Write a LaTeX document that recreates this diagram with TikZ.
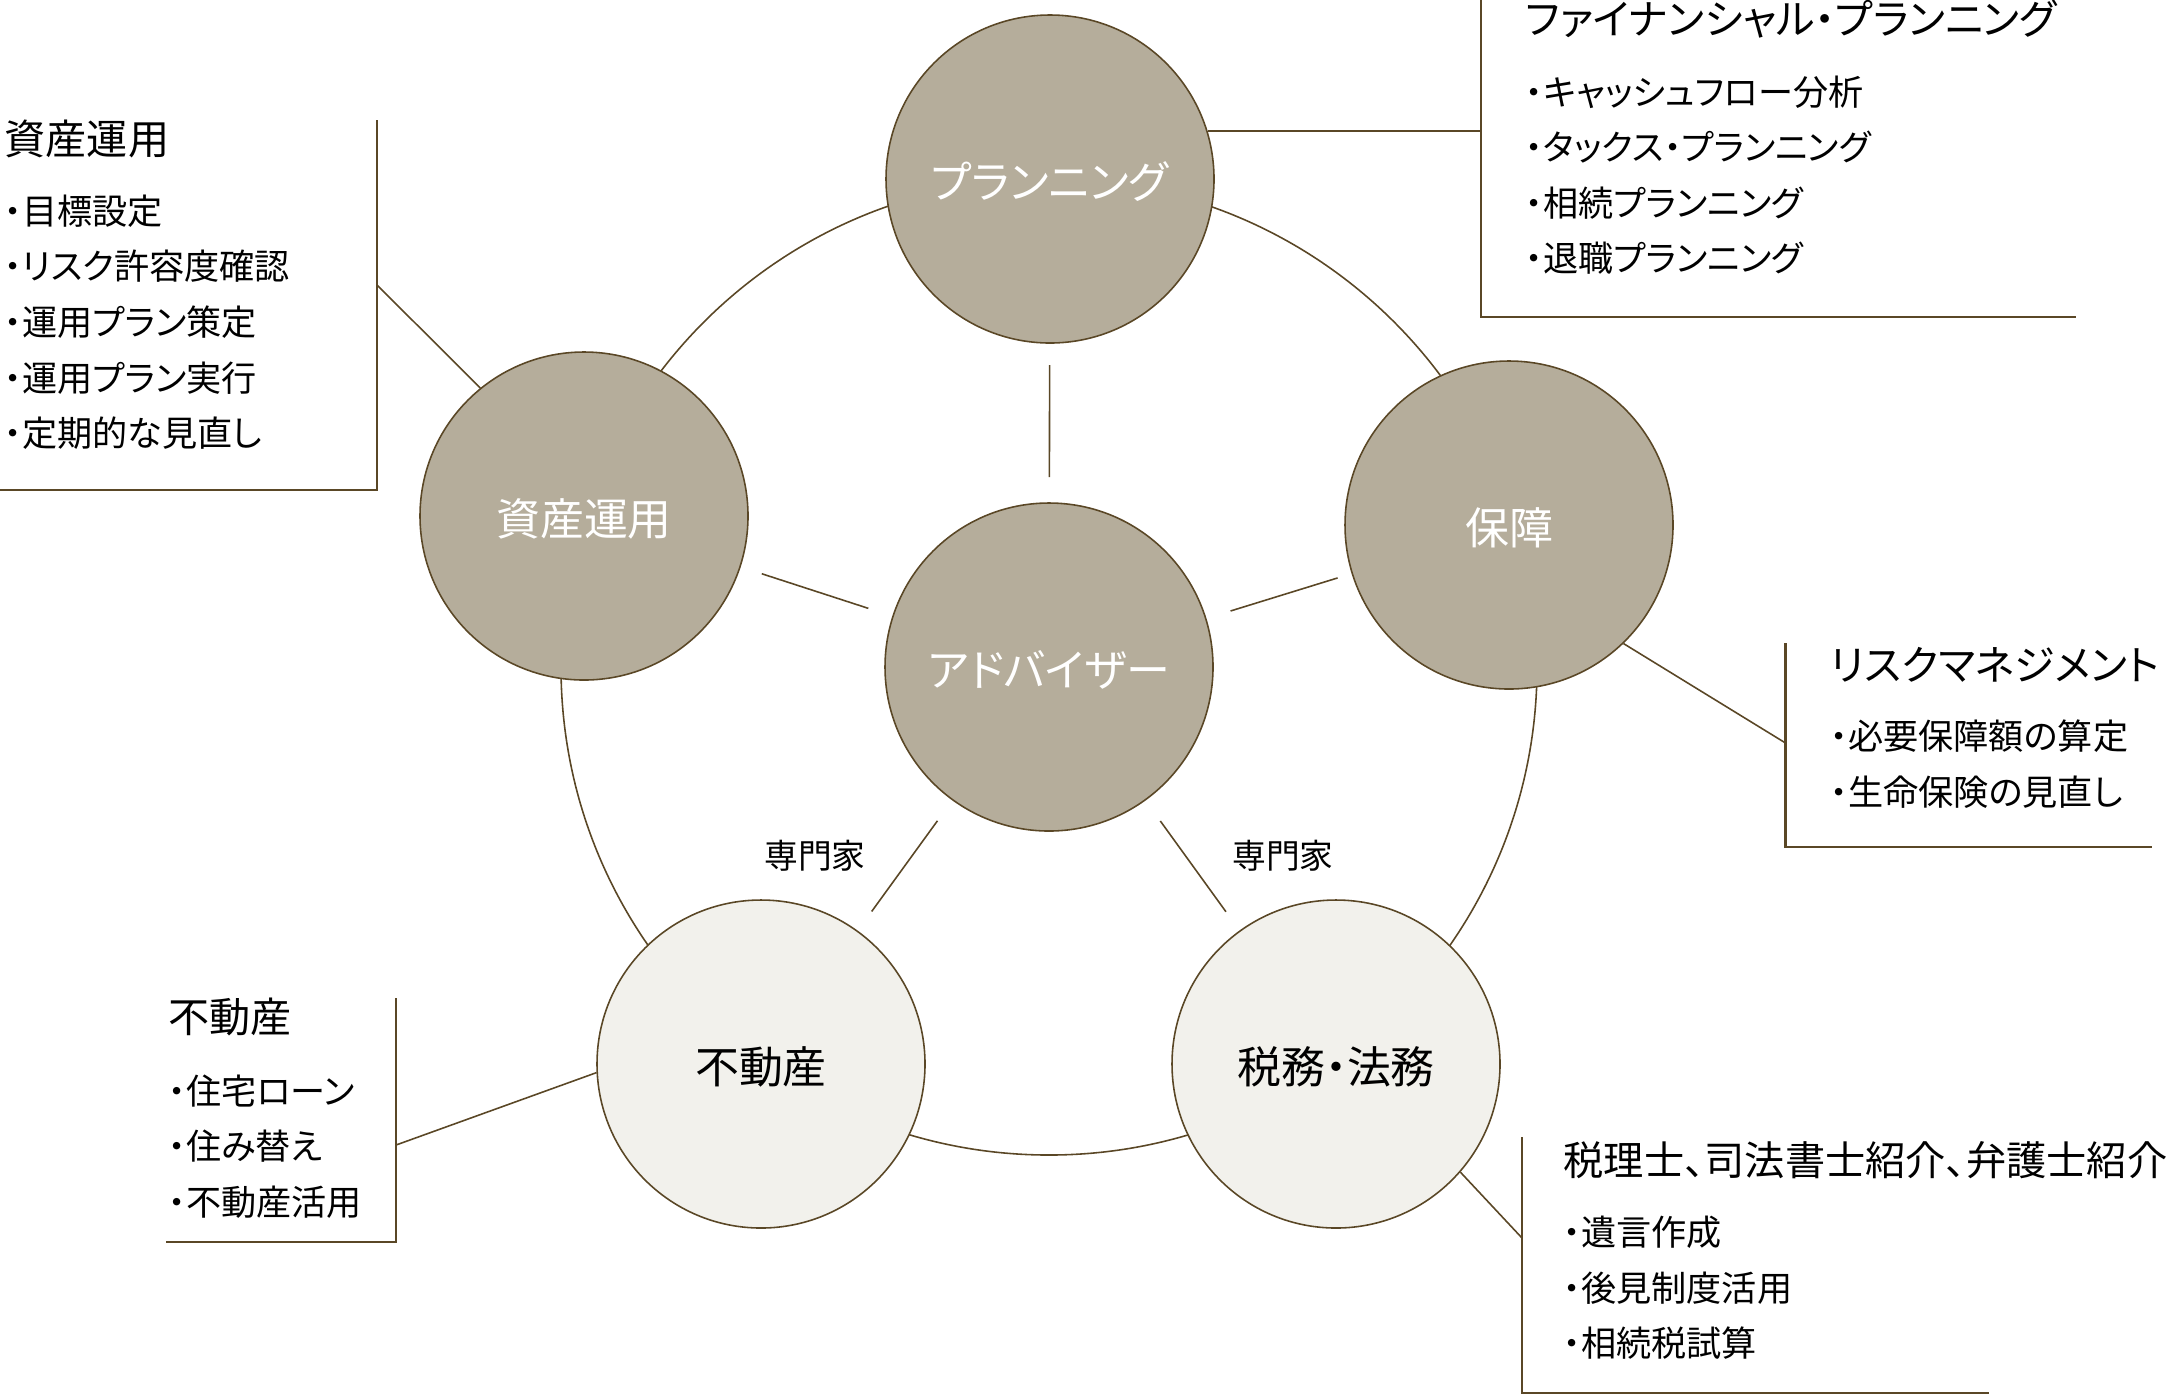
\documentclass[tikz,border=0pt]{standalone}
\usepackage{fontspec}
\setmainfont{Noto Sans CJK JP}[RawFeature=+palt]
\usepackage{xcolor}
\usepackage{tikz}
\usetikzlibrary{positioning,calc}

\definecolor{taupe}{HTML}{B5AD9B}
\definecolor{cream}{HTML}{F2F1EC}
\definecolor{umber}{HTML}{5A4726}

\begin{document}
\begin{tikzpicture}[
      hub/.style={circle, draw=umber, line width=0.45pt, fill=taupe, text=white, minimum size=3.28cm, inner sep=0pt, text height=0.42cm, text depth=0.03cm, font=\fontsize{12.5}{15}\selectfont},
      litehub/.style={hub, fill=cream, text=black},
      head/.style={anchor=west, inner sep=0pt, font=\fontsize{11.7}{14}\selectfont},
      items/.style={align=left, inner sep=0pt, font=\fontsize{10}{15.8}\selectfont},
      tag/.style={inner sep=0pt, font=\fontsize{9.6}{12}\selectfont},
      link/.style={draw=umber, line width=0.45pt},
      bracket/.style={draw=umber, line width=0.6pt}
    ]
    \useasboundingbox (0,0) rectangle (21.72,-13.96);

    % Ring behind the circles
    \coordinate (c) at (10.49,-6.67);
    \draw[link] (c) circle (4.88);

    % Nodes
    \node[hub] (adv) at (c) {アドバイザー};
    \node[hub] (plan) at (10.50,-1.79) {プランニング};
    \node[hub] (prot) at (15.09,-5.25) {保障};
    \node[hub] (asset) at (5.84,-5.16) {資産運用};
    \node[litehub] (estate) at (7.61,-10.64) {不動産};
    \node[litehub] (tax) at (13.36,-10.64) {税務・法務};

    % Spokes from the adviser
    \foreach \s in {plan,prot,asset,estate,tax}
      \draw[link] ($(adv)!1.9cm!(\s)$) -- ($(adv)!3.02cm!(\s)$);
    \node[tag] (expL) at (8.15,-8.56) {専門家};
    \node[tag] (expR) at (12.83,-8.56) {専門家};

    % Financial planning
    \coordinate (fpTop) at (14.81,0.1);
    \coordinate (fpBot) at (14.81,-3.17);
    \draw[bracket] (fpTop) -- (fpBot) -- ++(5.95,0);
    \draw[link] (plan.17) -- (plan.17 -| fpBot);
    \node[head] (fpT) at (15.25,-0.19) {ファイナンシャル・プランニング};
    \node[items, below right=0.36cm and 0cm of fpT.south west] (fpL) {・キャッシュフロー分析\\・タックス・プランニング\\・相続プランニング\\・退職プランニング};

    % Asset management
    \coordinate (asTop) at (3.77,-1.20);
    \coordinate (asBot) at (3.77,-4.90);
    \draw[bracket] (asTop) -- (asBot) -- ++(-3.85,0);
    \coordinate (asJoin) at (3.77,-2.85);
    \draw[link] (asset.129) -- (asJoin);
    \node[head] (asT) at (0.04,-1.385) {資産運用};
    \node[items, below right=0.36cm and 0cm of asT.south west] (asL) {・目標設定\\・リスク許容度確認\\・運用プラン策定\\・運用プラン実行\\・定期的な見直し};

    % Risk management
    \coordinate (rkTop) at (17.855,-6.43);
    \coordinate (rkBot) at (17.855,-8.47);
    \draw[bracket] (rkTop) -- (rkBot) -- ++(3.66,0);
    \coordinate (rkJoin) at (17.855,-7.43);
    \draw[link] (prot.-46) -- (rkJoin);
    \node[head] (rkT) at (18.30,-6.65) {リスクマネジメント};
    \node[items, below right=0.36cm and 0cm of rkT.south west] (rkL) {・必要保障額の算定\\・生命保険の見直し};

    % Real estate
    \coordinate (esTop) at (3.96,-9.98);
    \coordinate (esBot) at (3.96,-12.42);
    \draw[bracket] (esTop) -- (esBot) -- ++(-2.30,0);
    \coordinate (esJoin) at (3.96,-11.45);
    \draw[link] (estate.183) -- (esJoin);
    \node[head] (esT) at (1.68,-10.17) {不動産};
    \node[items, below right=0.37cm and 0cm of esT.south west] (esL) {・住宅ローン\\・住み替え\\・不動産活用};

    % Tax and legal
    \coordinate (txTop) at (15.22,-11.37);
    \coordinate (txBot) at (15.22,-13.93);
    \draw[bracket] (txTop) -- (txBot) -- ++(4.67,0);
    \coordinate (txJoin) at (15.22,-12.38);
    \draw[link] (tax.-41) -- (txJoin);
    \node[head, font=\fontsize{11.45}{14}\selectfont] (txT) at (15.63,-11.60) {税理士、司法書士紹介、弁護士紹介};
    \node[items, below right=0.36cm and 0cm of txT.south west] (txL) {・遺言作成\\・後見制度活用\\・相続税試算};
  \end{tikzpicture}
\end{document}
